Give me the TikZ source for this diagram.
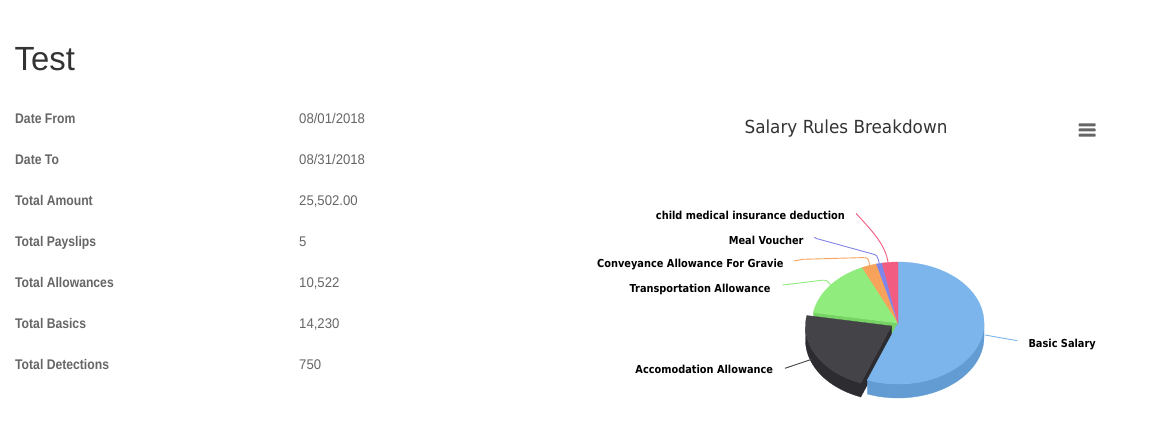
\documentclass[tikz,border=0pt]{standalone}
\usepackage{fontspec}
\usepackage{graphicx}
\setmainfont{Liberation Sans}
\newfontfamily\testfont[FakeStretch=0.98]{Liberation Sans}
\newfontfamily\labfont[FakeStretch=0.87]{Liberation Sans}
\newfontfamily\valfont[FakeStretch=0.94]{Liberation Sans}
\newfontfamily\ctitlefont[FakeStretch=0.935]{DejaVu Sans}
\newfontfamily\clabfont[FakeStretch=0.89]{DejaVu Sans}
\definecolor{txtdark}{HTML}{333333}
\definecolor{txtgray}{HTML}{666666}
\definecolor{ctitle}{HTML}{333333}
\definecolor{menugray}{HTML}{666666}
\definecolor{bluetop}{HTML}{7CB5EC}
\definecolor{blueside}{HTML}{639CD3}
\definecolor{darktop}{HTML}{434348}
\definecolor{darkside}{HTML}{2C2C31}
\definecolor{greentop}{HTML}{90ED7D}
\definecolor{greenside}{HTML}{77D464}
\definecolor{orangetop}{HTML}{F7A35C}
\definecolor{purpletop}{HTML}{8085E9}
\definecolor{pinktop}{HTML}{F15C80}
\tikzset{
  rowlabel/.style={anchor=base west,inner sep=0pt,text=txtgray,font=\labfont\bfseries\fontsize{14}{16}\selectfont},
  rowvalue/.style={anchor=base west,inner sep=0pt,text=txtgray,font=\valfont\fontsize{14}{16}\selectfont},
  slicelabel/.style={inner sep=0pt,text=black,font=\clabfont\bfseries\fontsize{11}{13}\selectfont},
  conn/.style={line width=0.9pt},
  slicefill/.style={fill=#1,draw=#1,line width=0.3pt}
}
\begin{document}
\begin{tikzpicture}[x=1pt,y=-1pt]
\useasboundingbox (0,0) rectangle (1168,443);
\fill[white] (0,0) rectangle (1168,443);

% ---- left panel
\node[anchor=base west,inner sep=0pt,text=txtdark,font=\testfont\fontsize{33.5}{36}\selectfont] (ttl) at (14.5,71) {Test};

\node[rowlabel] (l1) at (15,123.5) {Date From};
\node[rowlabel] (l2) at (15,164.5) {Date To};
\node[rowlabel] (l3) at (15,205.5) {Total Amount};
\node[rowlabel] (l4) at (15,246.5) {Total Payslips};
\node[rowlabel] (l5) at (15,287.5) {Total Allowances};
\node[rowlabel] (l6) at (15,328.5) {Total Basics};
\node[rowlabel] (l7) at (15,369.5) {Total Detections};

\node[rowvalue] (v1) at (299,123.5) {08/01/2018};
\node[rowvalue] (v2) at (299,164.5) {08/31/2018};
\node[rowvalue] (v3) at (299,205.5) {25,502.00};
\node[rowvalue] (v4) at (299,246.5) {5};
\node[rowvalue] (v5) at (299,287.5) {10,522};
\node[rowvalue] (v6) at (299,328.5) {14,230};
\node[rowvalue] (v7) at (299,369.5) {750};

% ---- chart title and menu
\node[anchor=base,inner sep=0pt,text=ctitle,font=\ctitlefont\fontsize{18}{20}\selectfont] (ctl) at (846,133.3) {Salary Rules Breakdown};
\fill[menugray,rounded corners=0.8pt] (1078.5,123.3) rectangle (1095.7,126.3);
\fill[menugray,rounded corners=0.8pt] (1078.5,128.5) rectangle (1095.7,131.5);
\fill[menugray,rounded corners=0.8pt] (1078.5,133.7) rectangle (1095.7,136.7);

% ---- pie (center 898,323; rx 86; ry 61; depth 14)
% green radial face at 280
\fill[slicefill=greenside] (898,323) -- ({898+86*sin(280)},{323-61*cos(280)}) -- ({898+86*sin(280)},{337-61*cos(280)}) -- (898,337) -- cycle;

% dark slice (exploded), center 891.5,326
\fill[slicefill=darkside] plot[domain=200.9:270,samples=40] ({891.5+86*sin(\x)},{326-61*cos(\x)}) -- plot[domain=270:200.9,samples=40] ({891.5+86*sin(\x)},{340-61*cos(\x)}) -- cycle;
\fill[slicefill=darkside] (891.5,326) -- ({891.5+86*sin(200.9)},{326-61*cos(200.9)}) -- ({891.5+86*sin(200.9)},{340-61*cos(200.9)}) -- (891.5,340) -- cycle;
\fill[slicefill=darktop] (891.5,326) -- plot[domain=200.9:279.9,samples=40] ({891.5+86*sin(\x)},{326-61*cos(\x)}) -- cycle;

% blue slice
\fill[slicefill=blueside] plot[domain=90:200.9,samples=50] ({898+86*sin(\x)},{323-61*cos(\x)}) -- plot[domain=200.9:90,samples=50] ({898+86*sin(\x)},{337-61*cos(\x)}) -- cycle;
\fill[slicefill=bluetop] (898,323) -- plot[domain=0:200.9,samples=80] ({898+86*sin(\x)},{323-61*cos(\x)}) -- cycle;

% small slices
\fill[slicefill=greentop] (898,323) -- plot[domain=279.9:335.5,samples=30] ({898+86*sin(\x)},{323-61*cos(\x)}) -- cycle;
\fill[slicefill=orangetop] (898,323) -- plot[domain=335.5:345.5,samples=8] ({898+86*sin(\x)},{323-61*cos(\x)}) -- cycle;
\fill[slicefill=purpletop] (898,323) -- plot[domain=345.5:349.4,samples=5] ({898+86*sin(\x)},{323-61*cos(\x)}) -- cycle;
\fill[slicefill=pinktop] (898,323) -- plot[domain=349.4:360,samples=8] ({898+86*sin(\x)},{323-61*cos(\x)}) -- cycle;

% ---- slice labels
\node[slicelabel,anchor=base east] (lchild) at (845,220) {child medical insurance deduction};
\node[slicelabel,anchor=base east] (lmeal) at (803.7,244.3) {Meal Voucher};
\node[slicelabel,anchor=base east] (lconv) at (783.7,268) {Conveyance Allowance For Gravie};
\node[slicelabel,anchor=base east] (ltrans) at (770.7,292.3) {Transportation Allowance};
\node[slicelabel,anchor=base east] (laccom) at (773.3,374) {Accomodation Allowance};
\node[slicelabel,anchor=base west] (lbasic) at (1028.3,347.3) {Basic Salary};

% ---- connector end points on the slices
\coordinate (mpink) at (888,262);
\coordinate (mpurple) at (879.3,263.3);
\coordinate (morange) at (869.5,265.5);
\coordinate (mgreen) at (830.5,285);
\coordinate (mdark) at (811.7,359.3);
\coordinate (mblue) at (985,335);

% ---- connectors
\draw[conn,pinktop] ([xshift=11pt,yshift=6.7pt]lchild.base east) .. controls (872,231) and (885,244) .. (mpink);
\draw[conn,purpletop] ([xshift=10.6pt,yshift=7pt]lmeal.base east) .. controls (816,238.5) .. (820,239.5) -- (872,253.8) .. controls (877,255) .. (mpurple);
\draw[conn,orangetop] ([xshift=10.3pt,yshift=7pt]lconv.base east) .. controls (798,259.5) .. (803,259.3) -- (863,257.6) .. controls (868.5,258) .. (morange);
\draw[conn,greentop] ([xshift=12pt,yshift=7.3pt]ltrans.base east) -- (822.5,280.2) .. controls (827,280.3) .. (mgreen);
\draw[conn,darktop] ([xshift=11.7pt,yshift=5.7pt]laccom.base east) -- (mdark);
\draw[conn,bluetop] (mblue) -- ([xshift=-11pt,yshift=6.6pt]lbasic.base west);
\end{tikzpicture}
\end{document}
